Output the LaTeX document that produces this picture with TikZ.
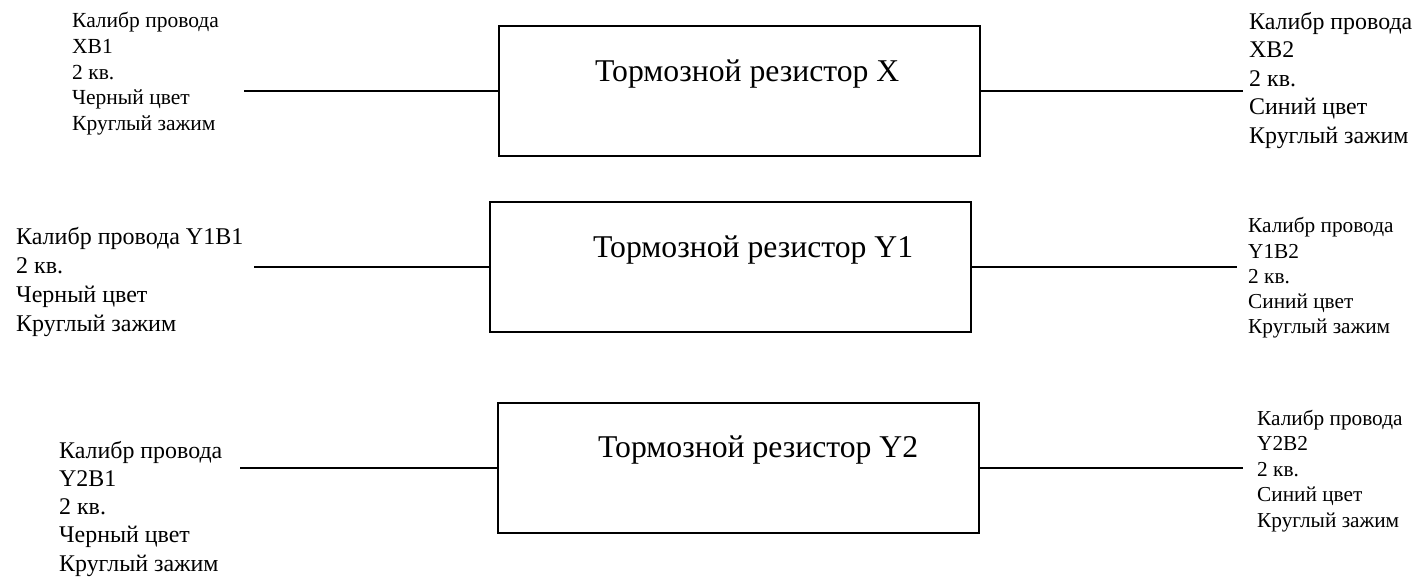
\documentclass[tikz,border=0pt]{standalone}
\usepackage{fontspec}
\setmainfont{Liberation Serif}
\usetikzlibrary{positioning}
\tikzset{
  resbox/.style = {draw, line width = 2pt, minimum width = 481pt, minimum height = 130pt, inner sep = 0pt},
  wire/.style = {line width = 1.6pt},
  head/.style = {anchor = base west, inner sep = 0pt, font = \fontsize{31.7}{38}\selectfont},
  note/.style 2 args = {anchor = base west, align = left, inner sep = 0pt, font = \fontsize{#1}{#2}\selectfont},
}

\begin{document}
\begin{tikzpicture}[x=1pt,y=-1pt]
  \useasboundingbox (0,0) rectangle (1418,583);
% resistors
  \node[resbox] (rx)  at (739.5,91) {};
  \node[resbox] (ry1) at (730,267)  {};
  \node[resbox] (ry2) at (738,468)  {};
  \node[head] (tx)  at (595,82)  {Тормозной резистор X};
  \node[head] (ty1) at (593,257) {Тормозной резистор Y1};
  \node[head] (ty2) at (598,457) {Тормозной резистор Y2};
% wire ends
  \coordinate (xa)  at (244,91);
  \coordinate (xb)  at (1243,91);
  \coordinate (y1a) at (254,267);
  \coordinate (y1b) at (1237,267);
  \coordinate (y2a) at (240,468);
  \coordinate (y2b) at (1243,468);
  \foreach \r/\a/\b in {rx/xa/xb,ry1/y1a/y1b,ry2/y2a/y2b}{
    \draw[wire] (\a) -- (\r.west);
    \draw[wire] (\r.east) -- (\b);
  }
% wire notes (placed at the baseline of the last line)
  \node[note={21.5}{25.7}] (nxa) at (72,130.5)
    {Калибр провода\\XB1\\2 кв.\\Черный цвет\\Круглый зажим};
  \node[note={23.9}{28.5}] (nxb) at (1249,143.3)
    {Калибр провода\\XB2\\2 кв.\\Синий цвет\\Круглый зажим};
  \node[note={24}{29}] (ny1a) at (16,331)
    {Калибр провода Y1B1\\2 кв.\\Черный цвет\\Круглый зажим};
  \node[note={21.3}{25.3}] (ny1b) at (1248,333.9)
    {Калибр провода\\Y1B2\\2 кв.\\Синий цвет\\Круглый зажим};
  \node[note={23.9}{28.3}] (ny2a) at (59,571.2)
    {Калибр провода\\Y2B1\\2 кв.\\Черный цвет\\Круглый зажим};
  \node[note={21.3}{25.5}] (ny2b) at (1257,527)
    {Калибр провода\\Y2B2\\2 кв.\\Синий цвет\\Круглый зажим};
\end{tikzpicture}
\end{document}
